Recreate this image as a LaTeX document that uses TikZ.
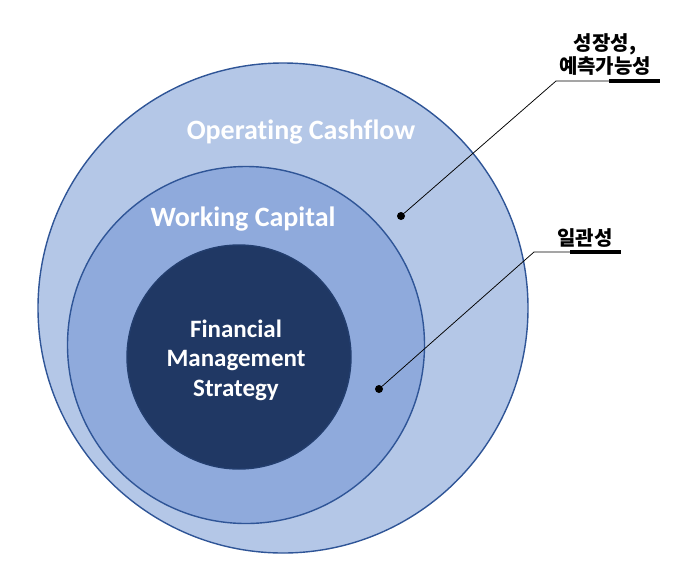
\documentclass[tikz,border=0pt]{standalone}
\usepackage{fontspec}
\setmainfont{Carlito}[Ligatures=NoCommon]
\newfontfamily\kr{Noto Sans CJK KR}
\definecolor{outerfill}{HTML}{B4C7E7}
\definecolor{midfill}{HTML}{8FAADC}
\definecolor{innerfill}{HTML}{203864}
\definecolor{ringline}{HTML}{2F5597}
\tikzset{
  ring/.style={circle, draw=ringline, line width=1.4pt, inner sep=0pt},
  ringtext/.style={text=white, font=\bfseries, align=center},
  dot/.style={circle, fill=black, inner sep=0pt, minimum size=8pt},
  leader/.style={draw=black, line width=0.75pt},
  bar/.style={draw=black, line width=4.5pt},
  krlabel/.style={font=\kr\bfseries\fontsize{20}{23}\selectfont, align=center, inner sep=0pt}
}
\begin{document}
\begin{tikzpicture}[x=1pt, y=-1pt]
\useasboundingbox (0,0) rectangle (680,566);
\node[ring, fill=outerfill, minimum size=490pt] (outer) at (283,308) {};
\node[ring, fill=midfill, minimum size=357pt] (mid) at (246,345) {};
\node[ring, fill=innerfill, draw=innerfill!80!ringline, minimum size=224pt] (inner) at (239,357) {};
\node[ringtext, font=\bfseries\fontsize{28}{32}\selectfont] (t1) at (301,132) {Operating Cashflow};
\node[ringtext, font=\bfseries\fontsize{28}{32}\selectfont] (t2) at (243,219) {Working Capital};
\node[ringtext, font=\bfseries\fontsize{25}{29.5}\selectfont] (t3) at (236,360) {Financial\\Management\\Strategy};
\node[dot] (d1) at (401,216) {};
\node[dot] (d2) at (379,389) {};
\coordinate (e1) at (556,81);
\coordinate (b1s) at (609,81);
\coordinate (b1e) at (660,81);
\coordinate (e2) at (534,252);
\coordinate (b2s) at (570,252);
\coordinate (b2e) at (621,252);
\draw[leader] (d1) -- (e1) -- (b1s);
\draw[bar] (b1s) -- (b1e);
\draw[leader] (d2) -- (e2) -- (b2s);
\draw[bar] (b2s) -- (b2e);
\node[krlabel] (l1) at (605,54.5) {성장성,\\[0pt]예측가능성};
\node[krlabel] (l2) at (585,238) {일관성};
\end{tikzpicture}
\end{document}
